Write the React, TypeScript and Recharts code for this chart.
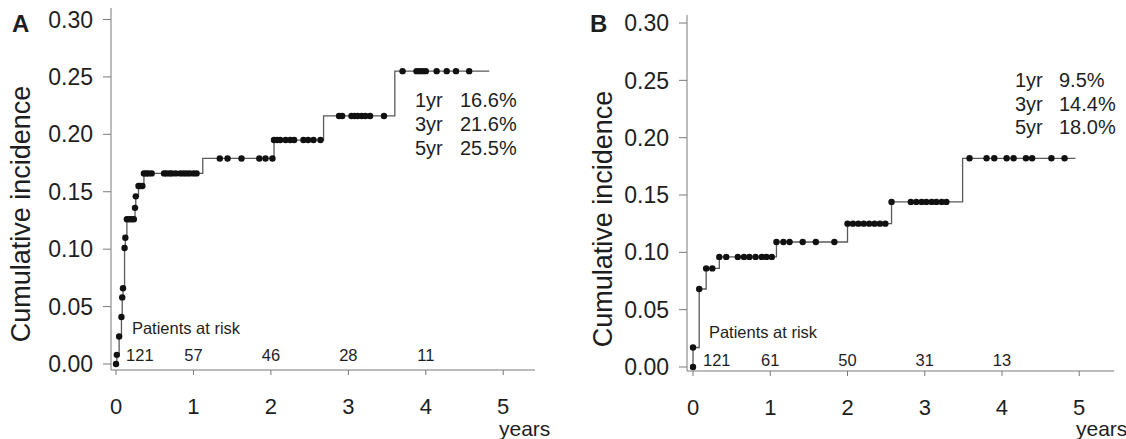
import React from "react";
import { LineChart, Line, XAxis, YAxis, ReferenceDot } from "recharts";

// panel A: event / censor times (years), cumulative incidence, and whether a dot is drawn
const aTime = [0, 0.01, 0.04, 0.07, 0.08, 0.09, 0.11, 0.12, 0.14, 0.17, 0.2, 0.23, 0.245, 0.255, 0.29, 0.31, 0.34, 0.36, 0.39, 0.42, 0.46, 0.62, 0.65, 0.69, 0.72, 0.77, 0.83, 0.87, 0.91, 0.95, 1.0, 1.04, 1.12, 1.34, 1.44, 1.62, 1.85, 1.93, 2.02, 2.04, 2.08, 2.12, 2.19, 2.25, 2.3, 2.42, 2.48, 2.55, 2.64, 2.68, 2.88, 2.92, 3.04, 3.08, 3.12, 3.17, 3.22, 3.28, 3.46, 3.6, 3.7, 3.88, 3.92, 3.96, 4.0, 4.14, 4.27, 4.39, 4.56, 4.82];
const aInc = [0, 0.008, 0.024, 0.041, 0.058, 0.066, 0.101, 0.11, 0.126, 0.126, 0.126, 0.126, 0.136, 0.146, 0.155, 0.155, 0.155, 0.166, 0.166, 0.166, 0.166, 0.166, 0.166, 0.166, 0.166, 0.166, 0.166, 0.166, 0.166, 0.166, 0.166, 0.166, 0.179, 0.179, 0.179, 0.179, 0.179, 0.179, 0.179, 0.195, 0.195, 0.195, 0.195, 0.195, 0.195, 0.195, 0.195, 0.195, 0.195, 0.216, 0.216, 0.216, 0.216, 0.216, 0.216, 0.216, 0.216, 0.216, 0.216, 0.255, 0.255, 0.255, 0.255, 0.255, 0.255, 0.255, 0.255, 0.255, 0.255, 0.255];
const aMark = [1, 1, 1, 1, 1, 1, 1, 1, 1, 1, 1, 1, 1, 1, 1, 1, 1, 1, 1, 1, 1, 1, 1, 1, 1, 1, 1, 1, 1, 1, 1, 1, 0, 1, 1, 1, 1, 1, 1, 1, 1, 1, 1, 1, 1, 1, 1, 1, 1, 0, 1, 1, 1, 1, 1, 1, 1, 1, 1, 0, 1, 1, 1, 1, 1, 1, 1, 1, 1, 0];

// panel B
const bTime = [0, 0, 0.08, 0.17, 0.25, 0.34, 0.43, 0.58, 0.66, 0.73, 0.81, 0.89, 0.95, 1.02, 1.08, 1.17, 1.25, 1.42, 1.59, 1.83, 2.0, 2.07, 2.14, 2.21, 2.28, 2.35, 2.42, 2.49, 2.57, 2.82, 2.89, 2.96, 3.02, 3.09, 3.15, 3.22, 3.28, 3.49, 3.58, 3.8, 3.9, 4.06, 4.15, 4.31, 4.39, 4.64, 4.81, 4.95];
const bInc = [0, 0.017, 0.068, 0.086, 0.086, 0.096, 0.096, 0.096, 0.096, 0.096, 0.096, 0.096, 0.096, 0.096, 0.109, 0.109, 0.109, 0.109, 0.109, 0.109, 0.125, 0.125, 0.125, 0.125, 0.125, 0.125, 0.125, 0.125, 0.144, 0.144, 0.144, 0.144, 0.144, 0.144, 0.144, 0.144, 0.144, 0.182, 0.182, 0.182, 0.182, 0.182, 0.182, 0.182, 0.182, 0.182, 0.182, 0.182];
const bMark = [1, 1, 1, 1, 1, 1, 1, 1, 1, 1, 1, 1, 1, 1, 1, 1, 1, 1, 1, 1, 1, 1, 1, 1, 1, 1, 1, 1, 1, 1, 1, 1, 1, 1, 1, 1, 1, 0, 1, 1, 1, 1, 1, 1, 1, 1, 1, 0];

const riskTimes = [0, 1, 2, 3, 4];
const riskA = ["121", "57", "46", "28", "11"];
const riskB = ["121", "61", "50", "31", "13"];

const yearLabels = ["1yr", "3yr", "5yr"];
const pctA = ["16.6%", "21.6%", "25.5%"];
const pctB = ["9.5%", "14.4%", "18.0%"];

const xTicks = [0, 1, 2, 3, 4, 5];
const yTicks = [0, 0.05, 0.1, 0.15, 0.2, 0.25, 0.3];

const FONT = "'Liberation Sans', Arial, sans-serif";
const AXIS = "#7a7a7a";
const TEXT = "#1e1e1e";

const build = (t: number[], y: number[], m: number[]) =>
  t.map((v, i) => ({ t: v, y: y[i], mark: m[i] }));

const Dot = (props: any) => {
  const { cx, cy, payload, index } = props;
  if (!payload || !payload.mark) return <g key={`d${index}`} />;
  return <circle key={`d${index}`} cx={cx} cy={cy} r={3.2} fill="#111" />;
};

interface PanelProps {
  left: number;
  data: { t: number; y: number; mark: number }[];
  risk: string[];
  yAxisWidth: number;
  top: number;
  right: number;
  xHeight: number;
  xDomain: [number, number];
  yDomain: [number, number];
  riskY: number;
  headY: number;
}

function Panel({ left, data, risk, yAxisWidth, top, right, xHeight, xDomain, yDomain, riskY, headY }: PanelProps) {
  return (
    <div style={{ position: "absolute", left, top: 0 }}>
      <LineChart width={563} height={439} data={data} margin={{ top, right, left: 0, bottom: 0 }}>
        <XAxis
          type="number"
          dataKey="t"
          domain={xDomain}
          ticks={xTicks}
          allowDataOverflow
          height={xHeight}
          stroke={AXIS}
          tickSize={5}
          tickMargin={23}
          tick={{ fill: TEXT, fontSize: 22, fontFamily: FONT }}
        />
        <YAxis
          type="number"
          domain={yDomain}
          ticks={yTicks}
          allowDataOverflow
          width={yAxisWidth}
          stroke={AXIS}
          tickSize={8}
          tickMargin={10}
          tickFormatter={(v: number) => v.toFixed(2)}
          tick={{ fill: TEXT, fontSize: 23, fontFamily: FONT }}
        />
        <Line
          type="stepAfter"
          dataKey="y"
          stroke="#5a5a5a"
          strokeWidth={1.3}
          dot={Dot}
          activeDot={false}
          isAnimationActive={false}
        />
        <ReferenceDot
          x={0.05}
          y={headY}
          r={0}
          fill="none"
          stroke="none"
          label={{ value: "Patients at risk", position: "right", offset: 12, fontSize: 16.5, fill: TEXT, fontFamily: FONT }}
        />
        {risk.map((r, i) => (
          <ReferenceDot
            key={r + i}
            x={riskTimes[i]}
            y={riskY}
            r={0}
            fill="none"
            stroke="none"
            label={
              i === 0
                ? { value: r, position: "right", offset: 10, fontSize: 16.5, fill: TEXT, fontFamily: FONT }
                : { value: r, position: "center", fontSize: 16.5, fill: TEXT, fontFamily: FONT }
            }
          />
        ))}
      </LineChart>
    </div>
  );
}

const abs = (l: number, t: number, extra: React.CSSProperties = {}): React.CSSProperties => ({
  position: "absolute",
  left: l,
  top: t,
  whiteSpace: "nowrap",
  lineHeight: 1,
  color: TEXT,
  ...extra,
});

export default function App() {
  return (
    <div style={{ position: "absolute", left: 0, top: 0, width: 1126, height: 439, background: "#fff", fontFamily: FONT }}>
      <Panel
        left={0}
        data={build(aTime, aInc, aMark)}
        risk={riskA}
        yAxisWidth={111}
        top={8}
        right={28}
        xHeight={69}
        xDomain={[-0.065, 5.41]}
        yDomain={[-0.0052, 0.31]}
        riskY={0.008}
        headY={0.031}
      />
      <Panel
        left={563}
        data={build(bTime, bInc, bMark)}
        risk={riskB}
        yAxisWidth={124}
        top={15}
        right={12}
        xHeight={68}
        xDomain={[-0.078, 5.45]}
        yDomain={[-0.0035, 0.307]}
        riskY={0.006}
        headY={0.03}
      />

      <div style={abs(12, 12, { fontSize: 24, fontWeight: "bold" })}>A</div>
      <div style={abs(590, 12, { fontSize: 24, fontWeight: "bold" })}>B</div>

      <div style={abs(21, 214, { fontSize: 27, transform: "translate(-50%, -50%) rotate(-90deg)" })}>
        Cumulative incidence
      </div>
      <div style={abs(603, 219, { fontSize: 27, transform: "translate(-50%, -50%) rotate(-90deg)" })}>
        Cumulative incidence
      </div>

      <div style={abs(499, 418, { fontSize: 21 })}>years</div>
      <div style={abs(1076, 418, { fontSize: 21 })}>years</div>

      {yearLabels.map((y, i) => (
        <React.Fragment key={y}>
          <div style={abs(415, 90 + i * 24, { fontSize: 20 })}>{y}</div>
          <div style={abs(460, 90 + i * 24, { fontSize: 20 })}>{pctA[i]}</div>
          <div style={abs(1015, 70 + i * 23.5, { fontSize: 20 })}>{y}</div>
          <div style={abs(1059, 70 + i * 23.5, { fontSize: 20 })}>{pctB[i]}</div>
        </React.Fragment>
      ))}
    </div>
  );
}
